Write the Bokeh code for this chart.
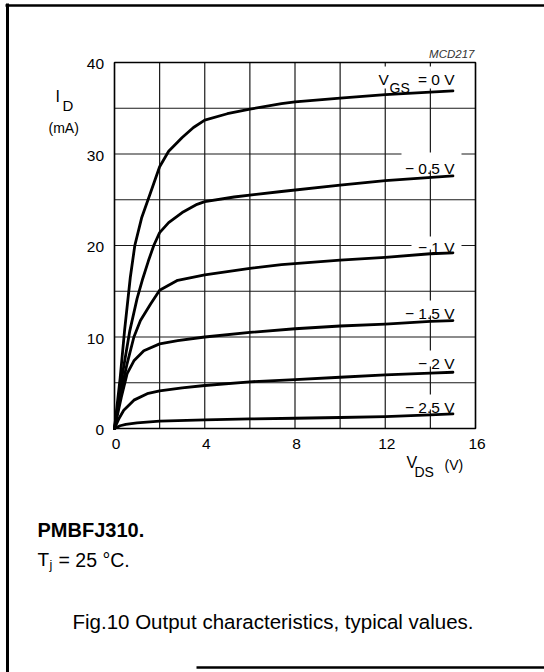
from bokeh.plotting import figure
from bokeh.models import Label
from bokeh.core.properties import value
from bokeh.embed import file_html
from bokeh.resources import INLINE

# ---------------- data ----------------
vgs_labels = ["VGS = 0 V", "\u2212 0.5 V", "\u2212 1 V", "\u2212 1.5 V", "\u2212 2 V", "\u2212 2.5 V"]

vds_0 = [0, 0.25, 0.45, 0.7, 0.9, 1.2, 1.6, 2.0, 2.4, 3.0, 3.5, 4, 5, 6, 7.4, 8, 10, 12, 15]
id_0 = [0, 5.5, 10.8, 16.5, 20.0, 23.0, 25.8, 28.6, 30.3, 31.8, 32.9, 33.7, 34.4, 34.9, 35.5, 35.7, 36.1, 36.5, 36.9]

vds_05 = [0, 0.3, 0.68, 1.0, 1.23, 1.5, 1.74, 2.0, 2.4, 3.0, 3.66, 4, 5.3, 7.4, 10, 12, 15]
id_05 = [0, 5.2, 10.7, 14.2, 16.2, 18.3, 20.0, 21.4, 22.5, 23.6, 24.5, 24.8, 25.3, 25.9, 26.6, 27.1, 27.6]

vds_1 = [0, 0.3, 0.56, 0.86, 1.15, 1.6, 2.0, 2.8, 4, 6, 7.4, 10, 12, 14, 15]
id_1 = [0, 4.2, 7.1, 10.0, 11.8, 13.6, 15.1, 16.2, 16.8, 17.5, 17.9, 18.4, 18.7, 19.1, 19.2]

vds_15 = [0, 0.3, 0.56, 0.86, 1.3, 2.0, 2.8, 4, 6, 8, 10, 12, 14, 15]
id_15 = [0, 3.4, 6.0, 7.4, 8.5, 9.25, 9.6, 10.0, 10.5, 10.9, 11.2, 11.4, 11.7, 11.8]

vds_2 = [0, 0.2, 0.41, 0.86, 1.45, 2.0, 3.0, 4.0, 6.0, 8, 10, 12, 14, 15]
id_2 = [0, 1.1, 2.0, 3.1, 3.8, 4.1, 4.45, 4.7, 5.1, 5.35, 5.6, 5.85, 6.05, 6.15]

vds_25 = [0, 0.25, 0.5, 1, 2, 4, 6, 8, 10, 12, 14, 15]
id_25 = [0, 0.3, 0.45, 0.62, 0.8, 0.95, 1.05, 1.12, 1.2, 1.3, 1.5, 1.6]

x_tick_labels = [0, 4, 8, 12, 16]
y_tick_labels = [0, 10, 20, 30, 40]
x_grid = [0, 2, 4, 6, 8, 10, 12, 14, 16]
y_grid = [0, 5, 10, 15, 20, 25, 30, 35, 40]

# ---------------- geometry ----------------
W, H = 544, 672
FL, FR, FT, FB = 114, 475, 62, 428          # pixel box of the chart grid
X0, X1, Y0, Y1 = 0, 16, 0, 40               # its data limits


def dx(px):
    return X0 + (px - FL) * (X1 - X0) / (FR - FL)


def dy(py):
    return Y0 + (FB - py) * (Y1 - Y0) / (FB - FT)


FONT = "Liberation Sans"
INK = "#000000"

p = figure(width=W, height=H, x_range=(dx(0), dx(W)), y_range=(dy(H), dy(0)),
           output_backend="svg", toolbar_location=None,
           x_axis_location=None, y_axis_location=None,
           min_border=0, min_border_left=0, min_border_right=0,
           min_border_top=0, min_border_bottom=0)
p.background_fill_color = "white"
p.border_fill_color = "white"
p.outline_line_color = None
p.grid.visible = False

# grid lines (drawn first)
p.segment(x0=x_grid, y0=Y0, x1=x_grid, y1=Y1, line_color="#1a1a1a", line_width=1.2)
p.segment(x0=X0, y0=y_grid, x1=X1, y1=y_grid, line_color="#1a1a1a", line_width=1.2)

# white patches behind the curve labels (hide the grid there, stay under the curves)
# pixel boxes: (left, right, top, bottom)
label_boxes = [(376, 458, 66, 88), (401, 461, 152, 170), (411, 461, 236, 249),
               (401, 458, 300, 315), (412, 458, 350, 366), (401, 458, 394, 409)]
p.quad(left=[dx(b[0]) for b in label_boxes], right=[dx(b[1]) for b in label_boxes],
       top=[dy(b[2]) for b in label_boxes], bottom=[dy(b[3]) for b in label_boxes],
       fill_color="white", line_color=None)

# chart box
p.quad(left=X0, right=X1, bottom=Y0, top=Y1, fill_color=None, line_color=INK, line_width=1.5)

# tick labels
p.text(x=x_tick_labels, y=dy(438), text=[str(v) for v in x_tick_labels],
       text_font=value(FONT), text_font_size="15.5px", text_color=INK,
       text_align="center", text_baseline="top", x_offset=1.5)
p.text(x=dx(103.5), y=y_tick_labels, text=[str(v) for v in y_tick_labels],
       text_font=value(FONT), text_font_size="15.5px", text_color=INK,
       text_align="right", text_baseline="middle", y_offset=1.5)

# curves
series = [(vds_0, id_0), (vds_05, id_05), (vds_1, id_1), (vds_15, id_15), (vds_2, id_2), (vds_25, id_25)]
for xs, ys in series:
    p.line(xs, ys, line_width=2.8, line_color=INK, line_join="round", line_cap="round")


def lab(text, px, py, size, align="left", style="normal", color=INK):
    p.add_layout(Label(x=dx(px), y=dy(py), text=text, text_font=FONT,
                       text_font_size=f"{size}px", text_align=align,
                       text_baseline="alphabetic", text_font_style=style,
                       text_color=color))


# curve labels (right aligned)
lab("V", 378, 79, 15.5)
lab("GS", 389, 87, 14)
lab("= 0 V", 454, 79, 15.5, align="right")
curve_label_baselines = [168, 247, 313, 363, 407]
for t, b in zip(vgs_labels[1:], curve_label_baselines):
    lab(t, 454, b, 15.5, align="right")

# figure code
lab("MCD217", 474, 53, 11.5, align="right", style="italic", color="#333333")

# y axis title
lab("I", 55, 96, 16)
lab("D", 62, 105, 15)
lab("(mA)", 48, 127, 14)

# x axis title
lab("V", 406, 462, 16)
lab("DS", 414, 471, 14)
lab("(V)", 444, 464, 14)

# notes below the chart
lab("PMBFJ310.", 37, 529, 20, style="bold")
lab("T", 37, 559, 19)
lab("j", 49, 564, 12.5)
lab("= 25 \u00b0C.", 58, 559, 19.5)
lab("Fig.10  Output characteristics, typical values.", 72, 621, 20.5)

# page border of the scan
border_x0 = [dx(7), dx(5), dx(196)]
border_y0 = [dy(3), dy(5), dy(667)]
border_x1 = [dx(7), dx(W), dx(W)]
border_y1 = [dy(H), dy(5), dy(667)]
p.segment(x0=border_x0, y0=border_y0, x1=border_x1, y1=border_y1,
          line_color=INK, line_width=[3, 2.5, 2.5])

open("out.html", "w").write(file_html(p, INLINE))
